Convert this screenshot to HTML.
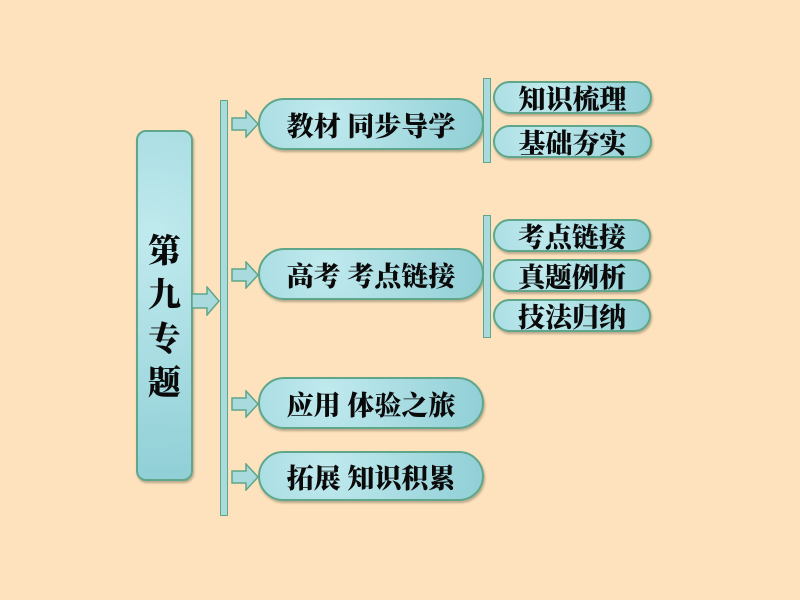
<!DOCTYPE html>
<html><head><meta charset="utf-8"><style>
body{margin:0;width:800px;height:600px;background:#fde2bd;position:relative;overflow:hidden;font-family:"Liberation Serif","Noto Serif CJK SC","Noto Sans CJK SC",serif;font-weight:900;color:#0a0a0a}
.b{position:absolute;background:radial-gradient(circle at 30% 30%,#c0eaee,#90cfd6);border:2px solid #5fa68a;box-sizing:border-box;box-shadow:1px 2px 2px rgba(80,80,60,.4)}
.p{border-radius:999px;display:flex;align-items:center;justify-content:center;font-size:27px;letter-spacing:0px}
.s{font-size:27px}
.bar{position:absolute;background:#a8dade;border:1px solid #5fa68a;box-sizing:border-box}
.ar{position:absolute}
</style></head><body>
<div class="b" style="left:136px;top:130px;width:57px;height:351px;border-radius:10px;display:flex;flex-direction:column;align-items:center;justify-content:center;font-size:33px;line-height:44px;padping:0;padding-top:24px">第<br>九<br>专<br>题</div>
<div class="bar" style="left:220px;top:100px;width:8px;height:416px"></div>
<svg class="ar" style="left:191px;top:286px" width="30" height="30"><polygon points="1,8 16,8 16,1 28,15 16,29 16,22 1,22" fill="#a8dade" stroke="#5fa68a" stroke-width="1.5"/></svg>
<svg class="ar" style="left:231px;top:110px" width="28" height="28"><polygon points="1,8 15,8 15,1 27,14 15,27 15,20 1,20" fill="#a8dade" stroke="#5fa68a" stroke-width="1.5"/></svg>
<svg class="ar" style="left:231px;top:261px" width="28" height="28"><polygon points="1,8 15,8 15,1 27,14 15,27 15,20 1,20" fill="#a8dade" stroke="#5fa68a" stroke-width="1.5"/></svg>
<svg class="ar" style="left:231px;top:390px" width="28" height="28"><polygon points="1,8 15,8 15,1 27,14 15,27 15,20 1,20" fill="#a8dade" stroke="#5fa68a" stroke-width="1.5"/></svg>
<svg class="ar" style="left:231px;top:463px" width="28" height="28"><polygon points="1,8 15,8 15,1 27,14 15,27 15,20 1,20" fill="#a8dade" stroke="#5fa68a" stroke-width="1.5"/></svg>
<div class="b p" style="left:258px;top:98px;width:226px;height:52px">教材&nbsp;同步导学</div>
<div class="b p" style="left:258px;top:248px;width:226px;height:52px">高考&nbsp;考点链接</div>
<div class="b p" style="left:258px;top:377px;width:226px;height:52px">应用&nbsp;体验之旅</div>
<div class="b p" style="left:258px;top:451px;width:226px;height:50px">拓展&nbsp;知识积累</div>
<div class="bar" style="left:483px;top:78px;width:8px;height:85px"></div>
<div class="bar" style="left:483px;top:215px;width:8px;height:123px"></div>
<div class="b p s" style="left:493px;top:81px;width:159px;height:33px">知识梳理</div>
<div class="b p s" style="left:493px;top:125px;width:159px;height:33px">基础夯实</div>
<div class="b p s" style="left:493px;top:219px;width:158px;height:33px">考点链接</div>
<div class="b p s" style="left:493px;top:259px;width:158px;height:33px">真题例析</div>
<div class="b p s" style="left:493px;top:299px;width:158px;height:33px">技法归纳</div>
</body></html>
